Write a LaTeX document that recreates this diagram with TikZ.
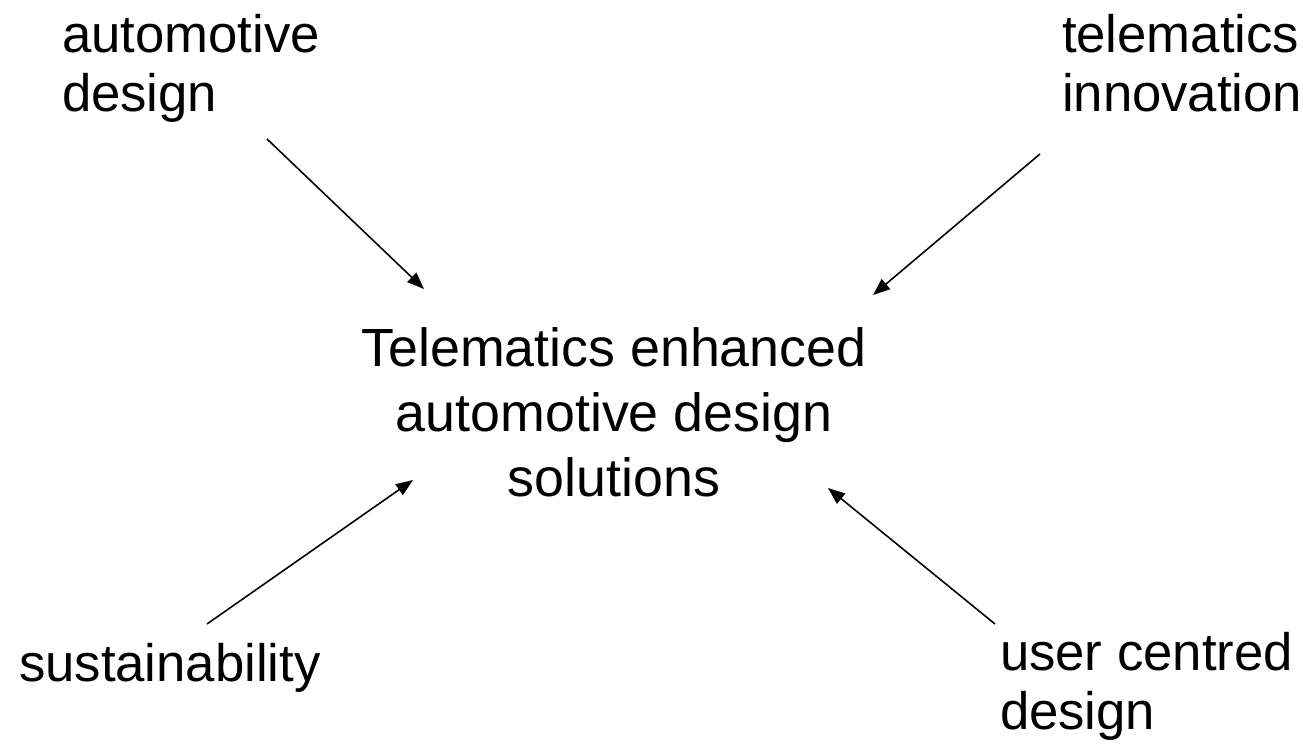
\documentclass[tikz,border=0pt]{standalone}
\usepackage{fontspec}
\setmainfont{Liberation Sans}
\usetikzlibrary{arrows.meta}
\begin{document}
\begin{tikzpicture}[x=0.02cm,y=-0.02cm,
  lbl/.style={font=\fontsize{30}{34}\selectfont, inner sep=0pt, outer sep=0pt},
  ctr/.style={font=\fontsize{30.6}{37}\selectfont, inner sep=0pt, outer sep=0pt, align=center},
  arr/.style={-{Triangle[length=0.34cm,width=0.26cm]}, line width=0.9pt}]
\useasboundingbox (0,0) rectangle (1303,746);
\node[lbl, align=left, anchor=base west] (ad) at (62,112) {automotive\\design};
\node[lbl, align=left, anchor=base west] (ti) at (1062,112) {telematics\\innovation};
\node[ctr, anchor=base] (c) at (614,497) {Telematics enhanced\\automotive design\\solutions};
\node[lbl, align=left, anchor=base west] (su) at (19,682) {sustainability};
\node[lbl, align=left, anchor=base west] (uc) at (1000,730) {user centred\\design};
\coordinate (a1s) at (267,139); \coordinate (a1e) at (424,289);
\coordinate (a2s) at (1040,154); \coordinate (a2e) at (873,295);
\coordinate (a3s) at (207,624); \coordinate (a3e) at (413,480);
\coordinate (a4s) at (995,624); \coordinate (a4e) at (828,488);
\draw[arr] (a1s) -- (a1e);
\draw[arr] (a2s) -- (a2e);
\draw[arr] (a3s) -- (a3e);
\draw[arr] (a4s) -- (a4e);
\end{tikzpicture}
\end{document}
